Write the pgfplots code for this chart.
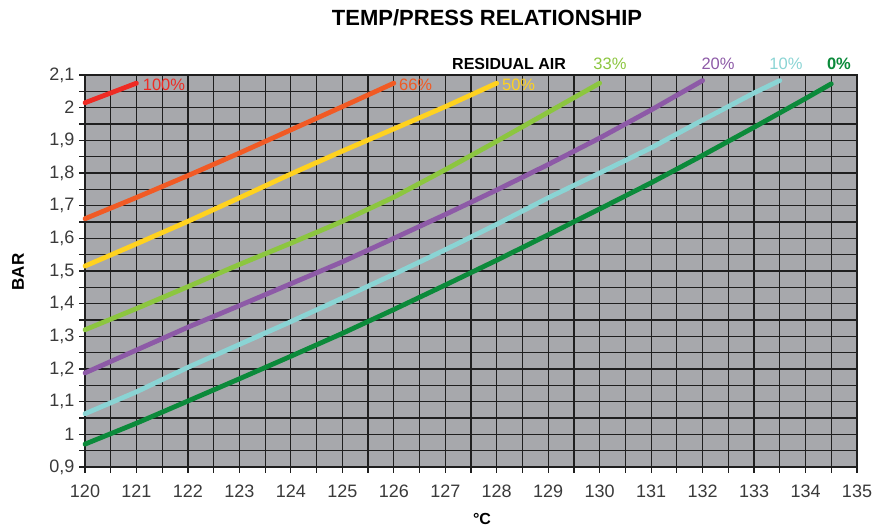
\documentclass[border=0pt]{standalone}
\usepackage{fontspec}
\setmainfont{Liberation Sans}
\usepackage{pgfplots}
\pgfplotsset{compat=1.18}
\definecolor{bg}{HTML}{A7A8AC}
\definecolor{c100}{HTML}{EE2B24}
\definecolor{c66}{HTML}{F15A24}
\definecolor{c50}{HTML}{FFD21F}
\definecolor{c33}{HTML}{8CC63F}
\definecolor{c20}{HTML}{8D5AA7}
\definecolor{c10}{HTML}{8AD4D4}
\definecolor{c0}{HTML}{0B8A3A}
\definecolor{tickc}{HTML}{3A3A3A}
\begin{document}
\begin{tikzpicture}
\begin{axis}[
  at={(85bp,59bp)}, anchor=south west, scale only axis,
  width=772bp, height=392bp,
  xmin=120, xmax=135, ymin=0.9, ymax=2.1,
  xtick={120,121,...,135},
  ytick={0.9,1.0,1.1,1.2,1.3,1.4,1.5,1.6,1.7,1.8,1.9,2.0,2.1},
  minor x tick num=1, minor y tick num=1,
  grid=both,
  major grid style={black!88,line width=1.2bp},
  minor grid style={black!88,line width=1.2bp},
  axis background/.style={fill=bg},
  axis line style={black!88,line width=1.2bp},
  tick align=outside, xtick pos=bottom, ytick pos=left,
  major tick length=6bp, minor tick length=6bp,
  tick style={black!88,line width=1.2bp},
  ticklabel style={font=\fontsize{18bp}{18bp}\selectfont, text=tickc},
  xticklabel style={yshift=-8bp},
  yticklabel style={xshift=-1bp},
  /pgf/number format/assume math mode=true,
  /pgf/number format/use comma,
  clip=false,
  every axis plot/.append style={line width=4.8bp, no markers, line cap=round},
]
% 0 %
\addplot[c0] coordinates {(120,0.970) (121,1.034) (122,1.102) (123,1.170) (124,1.239) (125,1.309) (126,1.382) (127,1.457) (128,1.533) (129,1.611) (130,1.690) (131,1.770) (132,1.854) (133,1.940) (134,2.028) (134.5,2.073)};
% 10 %
\addplot[c10] coordinates {(120,1.063) (121,1.130) (122,1.205) (123,1.275) (124,1.345) (125,1.417) (126,1.490) (127,1.565) (128,1.643) (129,1.724) (130,1.800) (131,1.877) (132,1.962) (133,2.045) (133.5,2.083)};
% 20 %
\addplot[c20] coordinates {(120,1.188) (121,1.258) (122,1.328) (123,1.394) (124,1.461) (125,1.528) (126,1.600) (127,1.673) (128,1.748) (129,1.826) (130,1.907) (131,1.993) (132,2.083)};
% 33 %
\addplot[c33] coordinates {(120,1.320) (121,1.385) (122,1.452) (123,1.520) (124,1.585) (125,1.652) (126,1.726) (127,1.810) (128,1.897) (129,1.986) (130,2.075)};
% 50 %
\addplot[c50] coordinates {(120,1.515) (121,1.583) (122,1.652) (123,1.724) (124,1.797) (125,1.867) (126,1.935) (127,2.003) (128,2.075)};
% 66 %
\addplot[c66] coordinates {(120,1.660) (121,1.725) (122,1.792) (123,1.861) (124,1.932) (125,2.003) (126,2.075)};
% 100 %
\addplot[c100] coordinates {(120,2.015) (120.5,2.045) (121,2.075)};

\node[anchor=base west, text=c100, font=\fontsize{16.5bp}{16.5bp}\selectfont, inner sep=0pt] at (axis cs:121.12,2.053) {100\%};
\node[anchor=base west, text=c66, font=\fontsize{16.5bp}{16.5bp}\selectfont, inner sep=0pt] at (axis cs:126.1,2.053) {66\%};
\node[anchor=base west, text=c50, font=\fontsize{16.5bp}{16.5bp}\selectfont, inner sep=0pt] at (axis cs:128.1,2.053) {50\%};
\node[anchor=base, font=\fontsize{16bp}{16bp}\selectfont\bfseries, inner sep=0pt] at (axis cs:128.24,2.118) {RESIDUAL AIR};
\node[anchor=base, text=c33, font=\fontsize{16.5bp}{16.5bp}\selectfont, inner sep=0pt] at (axis cs:130.2,2.118) {33\%};
\node[anchor=base, text=c20, font=\fontsize{16.5bp}{16.5bp}\selectfont, inner sep=0pt] at (axis cs:132.3,2.118) {20\%};
\node[anchor=base, text=c10, font=\fontsize{16.5bp}{16.5bp}\selectfont, inner sep=0pt] at (axis cs:133.62,2.118) {10\%};
\node[anchor=base, text=c0, font=\fontsize{16.5bp}{16.5bp}\selectfont\bfseries, inner sep=0pt] at (axis cs:134.65,2.118) {0\%};
\end{axis}
\node[anchor=base, font=\fontsize{22bp}{22bp}\selectfont\bfseries, inner sep=0pt] at (487bp,500bp) {TEMP/PRESS RELATIONSHIP};
\node[rotate=90, font=\fontsize{17bp}{17bp}\selectfont\bfseries, inner sep=0pt] at (18bp,254bp) {BAR};
\node[anchor=base, font=\fontsize{16bp}{16bp}\selectfont\bfseries, inner sep=0pt] at (482bp,2bp) {°C};
\pgfresetboundingbox
\path[use as bounding box] (0,0) rectangle (872bp,526bp);
\end{tikzpicture}
\end{document}
